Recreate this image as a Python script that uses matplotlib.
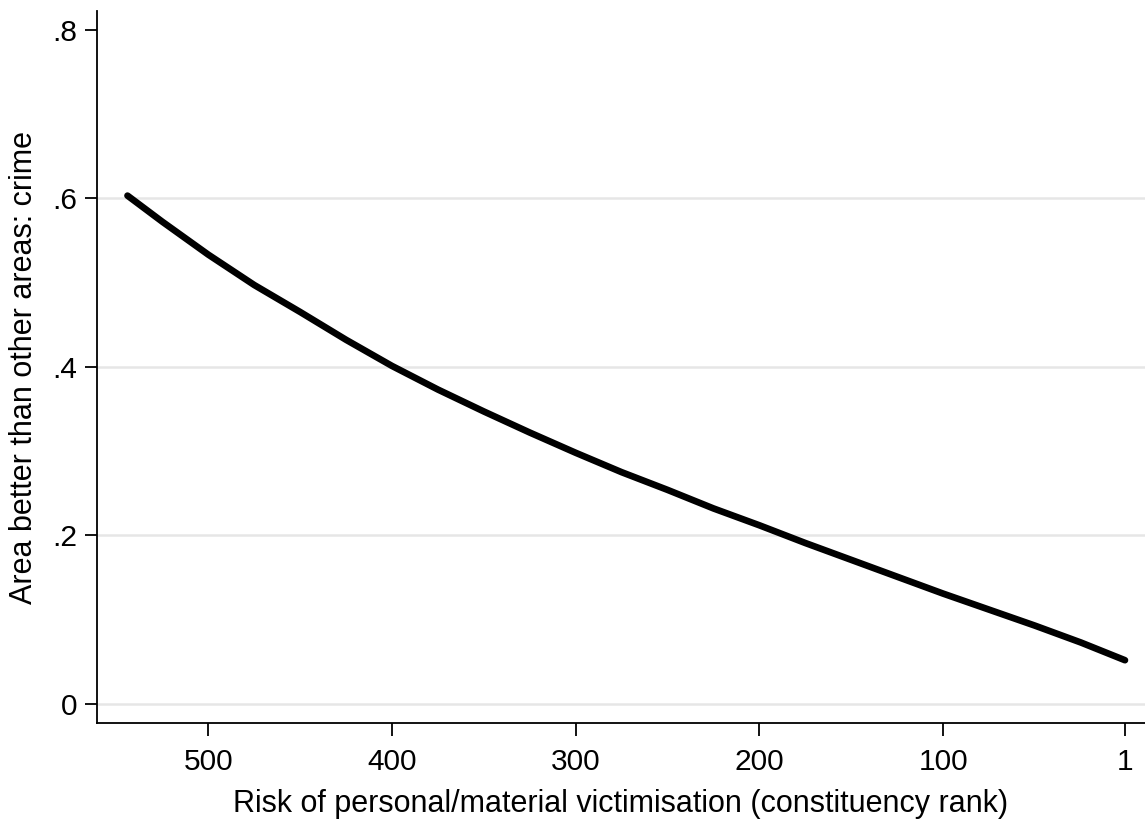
import matplotlib.pyplot as plt

# constituency rank (reversed axis) and predicted share
rank = [544, 525, 500, 475, 450, 425, 400, 375, 350, 325, 300, 275, 250, 225,
        200, 175, 150, 125, 100, 75, 50, 25, 1]
share = [0.603, 0.572, 0.533, 0.497, 0.465, 0.432, 0.401, 0.373, 0.347, 0.322,
         0.298, 0.275, 0.254, 0.232, 0.212, 0.191, 0.171, 0.151, 0.131, 0.112,
         0.093, 0.073, 0.052]

xticks = [500, 400, 300, 200, 100, 1]
yticks = [0, 0.2, 0.4, 0.6, 0.8]
yticklabels = ['0', '.2', '.4', '.6', '.8']
grid_vals = [0, 0.2, 0.4, 0.6]

plt.rcParams['font.family'] = ['Liberation Sans', 'DejaVu Sans']

fig = plt.figure(figsize=(11.45, 8.25), dpi=100, facecolor='w')
ax = fig.add_axes([0.0847, 0.1236, 0.9153, 0.8631])

for g in grid_vals:
    ax.axhline(g, color='#e6e6e6', lw=1.8, zorder=0)

ax.plot(rank, share, color='black', lw=4.8, solid_capstyle='round', solid_joinstyle='round')

ax.set_xlim(560.6, -9.9)
ax.set_ylim(-0.0225, 0.822)

ax.set_xticks(xticks)
ax.set_xticklabels([str(t) for t in xticks])
ax.set_yticks(yticks)
ax.set_yticklabels(yticklabels)

ax.spines['top'].set_visible(False)
ax.spines['right'].set_visible(False)
for s in ['left', 'bottom']:
    ax.spines[s].set_linewidth(1.3)

ax.tick_params(axis='both', direction='out', length=9, width=1.3, labelsize=21.5)
ax.tick_params(axis='x', pad=9)
ax.tick_params(axis='y', pad=5)

ax.set_xlabel('Risk of personal/material victimisation (constituency rank)', fontsize=22, labelpad=9)
ax.set_ylabel('Area better than other areas: crime', fontsize=22, labelpad=10)

fig.savefig('out.png', dpi=100)
